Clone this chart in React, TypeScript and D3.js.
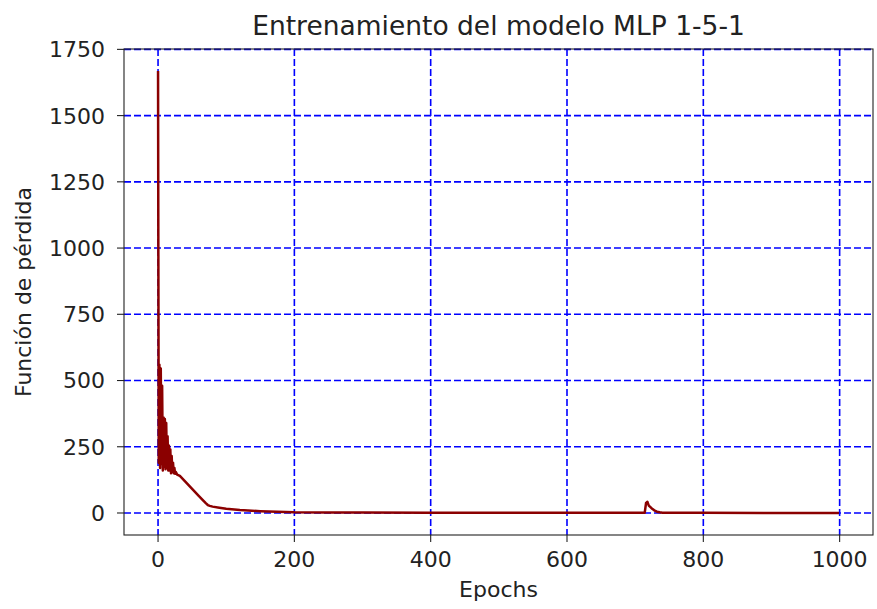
import React from "react";
import * as d3 from "d3";

// Training loss of the 1-5-1 MLP, sampled per epoch (dense where it changes fast)
const epochs = [
  0, 1, 2, 3, 4, 5, 6, 7, 8, 9, 10, 11, 12, 13, 14, 15, 16, 17, 18, 19, 20,
  21, 22, 23, 24, 25, 26, 28, 32, 40, 50, 60, 70, 73, 76, 80, 90, 100, 120,
  150, 200, 250, 300, 400, 500, 600, 700, 714, 716, 718, 720, 724, 728, 732,
  736, 740, 750, 800, 900, 999,
];
const losses = [
  1668, 190, 560, 170, 545, 185, 480, 160, 360, 175, 355, 165, 340, 170, 290,
  160, 255, 160, 240, 150, 215, 155, 190, 150, 170, 148, 155, 145, 140, 118,
  91, 64, 37, 30, 27, 24, 20, 16, 11, 7, 3, 2, 1.5, 1, 0.8, 0.6, 0.5, 0.5, 38,
  42, 28, 18, 10, 5, 2.5, 1.2, 0.6, 0.5, 0.4, 0.3,
];

const xTicks = [0, 200, 400, 600, 800, 1000];
const yTicks = [0, 250, 500, 750, 1000, 1250, 1500, 1750];

const TITLE = "Entrenamiento del modelo MLP 1-5-1";
const X_LABEL = "Epochs";
const Y_LABEL = "Función de pérdida";

const W = 877;
const H = 609;
const plot = { left: 124, right: 873, top: 49, bottom: 535 };
const FONT = "'DejaVu Sans', sans-serif";
const TEXT = "#222";
const TICK_FONT = 22;
const TITLE_FONT = 26.5;

export default function App() {
  const points = epochs.map((e, i) => ({ e, v: losses[i] }));

  // 5% padding on both axes, the same way an autoscaled plot would pad
  const [x0, x1] = d3.extent(epochs) as [number, number];
  const [y0, y1] = d3.extent(losses) as [number, number];
  const xPad = (x1 - x0) * 0.05;
  const yPad = (y1 - y0) * 0.05;

  const x = d3
    .scaleLinear()
    .domain([x0 - xPad, x1 + xPad])
    .range([plot.left, plot.right]);
  const y = d3
    .scaleLinear()
    .domain([y0 - yPad, y1 + yPad])
    .range([plot.bottom, plot.top]);

  const line = d3
    .line<{ e: number; v: number }>()
    .x((d) => x(d.e))
    .y((d) => y(d.v));

  const cx = (plot.left + plot.right) / 2;
  const cy = (plot.top + plot.bottom) / 2;

  return (
    <svg
      width={W}
      height={H}
      style={{ position: "fixed", left: 0, top: 0, background: "#fff" }}
      fontFamily={FONT}
    >
      <rect x={0} y={0} width={W} height={H} fill="#fff" />

      {/* dashed blue grid */}
      <g stroke="#0000ff" strokeWidth={1.6} strokeDasharray="7 3">
        {xTicks.map((t) => (
          <line key={"gx" + t} x1={x(t)} x2={x(t)} y1={plot.top} y2={plot.bottom} />
        ))}
        {yTicks.map((t) => (
          <line key={"gy" + t} x1={plot.left} x2={plot.right} y1={y(t)} y2={y(t)} />
        ))}
      </g>

      {/* loss curve */}
      <path
        d={line(points) ?? ""}
        fill="none"
        stroke="#8b0000"
        strokeWidth={2.5}
        strokeLinejoin="round"
      />

      {/* frame */}
      <rect
        x={plot.left}
        y={plot.top}
        width={plot.right - plot.left}
        height={plot.bottom - plot.top}
        fill="none"
        stroke={TEXT}
        strokeWidth={1.1}
      />

      {/* x axis ticks */}
      <g fontSize={TICK_FONT} fill={TEXT} textAnchor="middle">
        {xTicks.map((t) => (
          <g key={"xt" + t}>
            <line x1={x(t)} x2={x(t)} y1={plot.bottom} y2={plot.bottom + 7} stroke={TEXT} strokeWidth={1.1} />
            <text x={x(t)} y={567}>
              {t}
            </text>
          </g>
        ))}
      </g>

      {/* y axis ticks */}
      <g fontSize={TICK_FONT} fill={TEXT} textAnchor="end">
        {yTicks.map((t) => (
          <g key={"yt" + t}>
            <line x1={plot.left - 7} x2={plot.left} y1={y(t)} y2={y(t)} stroke={TEXT} strokeWidth={1.1} />
            <text x={plot.left - 19} y={y(t)} dy="0.36em">
              {t}
            </text>
          </g>
        ))}
      </g>

      <text x={cx} y={35} textAnchor="middle" fontSize={TITLE_FONT} fill={TEXT}>
        {TITLE}
      </text>
      <text x={cx} y={597} textAnchor="middle" fontSize={TICK_FONT} fill={TEXT}>
        {X_LABEL}
      </text>
      <text
        transform={`translate(31,${cy}) rotate(-90)`}
        textAnchor="middle"
        fontSize={TICK_FONT}
        fill={TEXT}
      >
        {Y_LABEL}
      </text>
    </svg>
  );
}
